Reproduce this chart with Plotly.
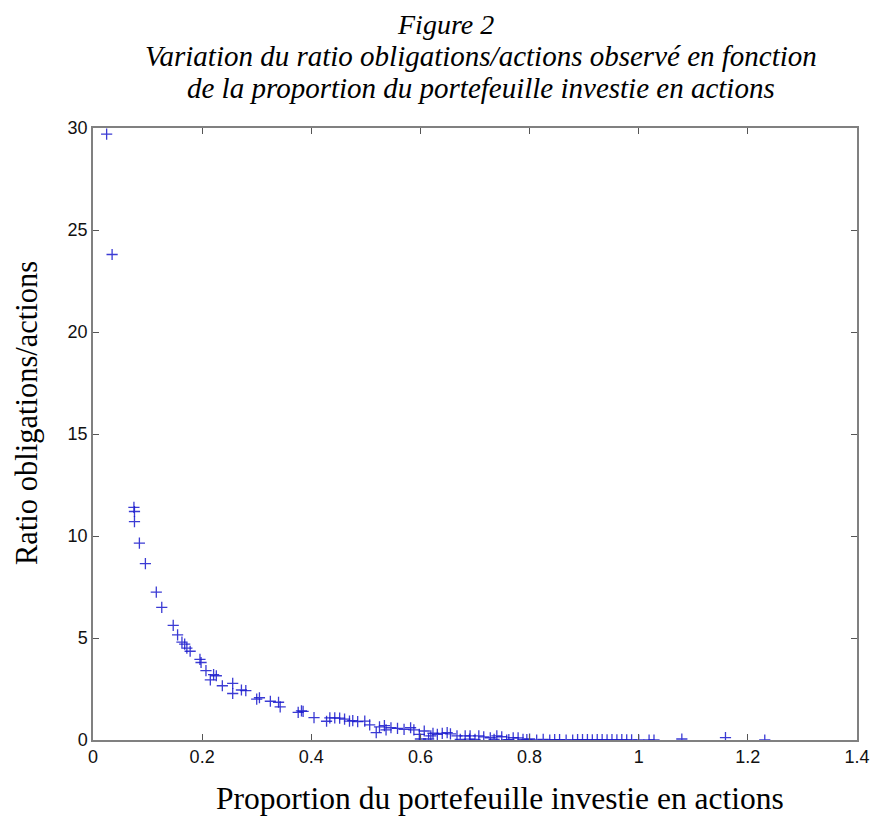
"""
Figure 2: ratio obligations/actions vs proportion investie en actions.
"""

import plotly.graph_objects as go

# Proportion du portefeuille investie en actions (x) and observed ratio (y)
proportion = [
    0.025, 0.035, 0.075, 0.076, 0.076, 0.085, 0.096, 0.116, 0.126, 0.147,
    0.155, 0.163, 0.168, 0.172, 0.178, 0.196, 0.198, 0.207, 0.215, 0.221,
    0.226, 0.237, 0.256, 0.256, 0.272, 0.280, 0.300, 0.305, 0.325, 0.340,
    0.343, 0.376, 0.382, 0.385, 0.405, 0.428, 0.434, 0.443, 0.452, 0.461,
    0.470, 0.476, 0.485, 0.498, 0.507, 0.519, 0.525, 0.534, 0.537, 0.546,
    0.558, 0.570, 0.582, 0.588, 0.598, 0.607, 0.619, 0.623, 0.631, 0.640,
    0.649, 0.655, 0.667, 0.673, 0.682, 0.691, 0.700, 0.707, 0.716, 0.728,
    0.740, 0.749, 0.758, 0.770, 0.779, 0.788, 0.800, 0.813, 0.825, 0.837,
    0.846, 0.855, 0.867, 0.879, 0.888, 0.897, 0.906, 0.915, 0.924, 0.933,
    0.942, 0.951, 0.960, 0.969, 0.978, 0.987, 1.000, 1.019, 1.028, 1.079,
    1.159, 1.231, 0.600, 0.615, 0.690, 0.735, 0.762, 0.795,
]
ratio = [
    29.7, 23.8, 11.4, 11.2, 10.7, 9.65, 8.65, 7.25, 6.50, 5.62,
    5.15, 4.80, 4.70, 4.50, 4.35, 3.95, 3.80, 3.40, 2.95, 3.20,
    3.15, 2.66, 2.78, 2.28, 2.45, 2.42, 2.00, 2.07, 1.90, 1.85,
    1.62, 1.35, 1.43, 1.40, 1.10, 0.92, 1.08, 1.08, 1.07, 1.02,
    0.93, 0.95, 0.90, 0.93, 0.74, 0.36, 0.64, 0.70, 0.50, 0.60,
    0.57, 0.52, 0.60, 0.50, 0.28, 0.44, 0.20, 0.33, 0.28, 0.32,
    0.36, 0.30, 0.20, 0.03, 0.20, 0.20, 0.03, 0.20, 0.15, 0.11,
    0.20, 0.16, 0.00, 0.11, 0.10, 0.03, 0.05, 0.00, 0.03, 0.00,
    0.02, 0.02, 0.00, 0.00, 0.02, 0.02, 0.02, 0.01, 0.02, 0.02,
    0.01, 0.02, 0.01, 0.02, 0.01, 0.01, 0.00, 0.00, 0.00, 0.05,
    0.12, 0.00, 0.05, 0.05, 0.04, 0.03, 0.02, 0.02,
]

x_ticks = [0, 0.2, 0.4, 0.6, 0.8, 1, 1.2, 1.4]
x_tick_labels = ["0", "0.2", "0.4", "0.6", "0.8", "1", "1.2", "1.4"]
y_ticks = [0, 5, 10, 15, 20, 25, 30]

title_lines = [
    "Figure 2",
    "Variation du ratio obligations/actions observé en fonction",
    "de la proportion du portefeuille investie en actions",
]
x_title = "Proportion du portefeuille investie en actions"
y_title = "Ratio obligations/actions"

SERIF = "Liberation Serif, Times New Roman, serif"
SANS = "Liberation Sans, Arial, sans-serif"

# page body has an 8px default margin, so the figure is drawn 8px in
OFF = 8
W, H = 878 - OFF, 825 - OFF
# plot area in window pixels (used to place the free text)
L, R, T, B = 93, 857, 128, 740


def px_x(x):
    return (x - L) / (R - L)


def px_y(y):
    return (B - y) / (B - T)


fig = go.Figure()

fig.add_trace(
    go.Scatter(
        x=proportion,
        y=ratio,
        mode="markers",
        marker={
            "symbol": "cross-thin",
            "size": 8,
            "line": {"color": "rgba(25,25,205,0.85)", "width": 1.3},
        },
        showlegend=False,
    )
)

axis_common = dict(
    showline=True,
    linecolor="#808080",
    linewidth=1.5,
    mirror="ticks",
    ticks="inside",
    ticklen=6,
    tickcolor="#555555",
    showgrid=False,
    zeroline=False,
    automargin=False,
    ticklabeloverflow="allow",
    tickfont={"family": SANS, "size": 18, "color": "#111111"},
)

fig.update_xaxes(
    range=[0, 1.4],
    tickvals=x_ticks,
    ticktext=x_tick_labels,
    **axis_common,
)
fig.update_yaxes(
    range=[0, 30],
    tickvals=y_ticks,
    **axis_common,
)

# Title lines (italic serif), placed one by one
title_y = [25, 56, 88]
title_x = [445, 481, 481]
title_size = [28, 29, 29]
for line, ypx, xpx, size in zip(title_lines, title_y, title_x, title_size):
    fig.add_annotation(
        text=f"<i>{line}</i>",
        xref="paper", yref="paper",
        x=px_x(xpx), y=px_y(ypx),
        xanchor="center", yanchor="middle",
        showarrow=False,
        font={"family": SERIF, "size": size, "color": "#000000"},
    )

# Axis titles
fig.add_annotation(
    text=x_title,
    xref="paper", yref="paper",
    x=px_x(500), y=px_y(798),
    xanchor="center", yanchor="middle",
    showarrow=False,
    font={"family": SERIF, "size": 31.5, "color": "#000000"},
)
fig.add_annotation(
    text=y_title,
    xref="paper", yref="paper",
    x=px_x(27), y=px_y(413),
    xanchor="center", yanchor="middle",
    textangle=-90,
    showarrow=False,
    font={"family": SERIF, "size": 30.5, "color": "#000000"},
)

fig.update_layout(
    width=W,
    height=H,
    margin={"l": L - OFF, "r": W - (R - OFF), "t": T - OFF, "b": H - (B - OFF)},
    paper_bgcolor="white",
    plot_bgcolor="white",
)

fig.write_html("out.html")
